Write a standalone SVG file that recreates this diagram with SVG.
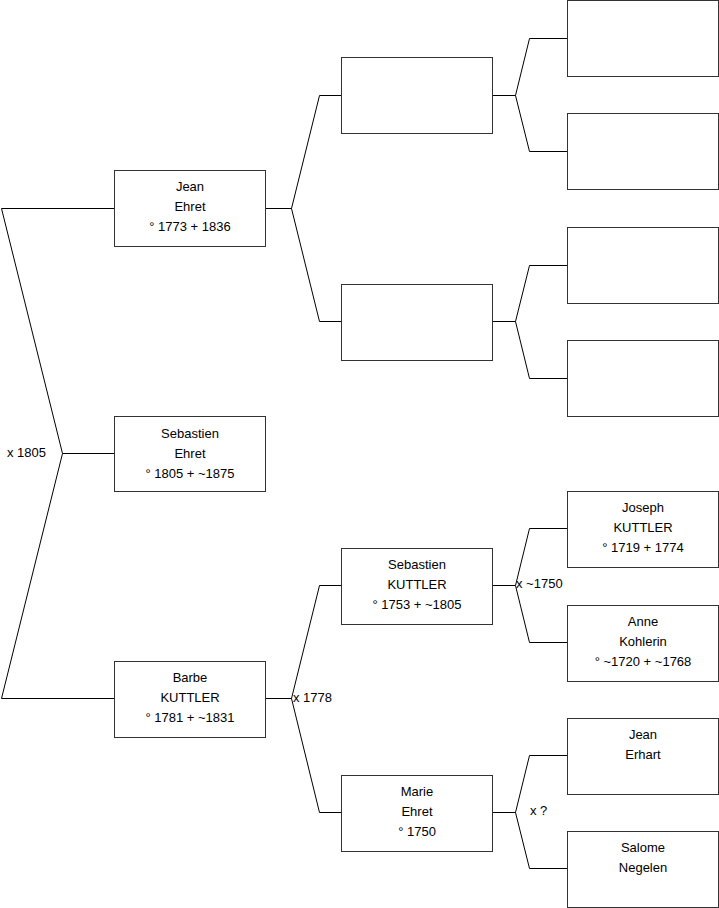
<svg xmlns="http://www.w3.org/2000/svg" width="719" height="908" viewBox="0 0 719 908">
<style>
.b{fill:#fff;stroke:#333;stroke-width:1}
.c{fill:none;stroke:#000;stroke-width:1}
text{font-family:"Liberation Sans",Arial,sans-serif;font-size:13px;fill:#000}
.t{text-anchor:middle}
</style>
<rect width="719" height="908" fill="#fff"/>
<g id="connectors">
<path class="c" d="M114.5,208.5H1.5L62.5,453.5L1.5,698.5H114.5M62.5,453.5H114.5"/>
<path class="c" d="M265.5,208.5H291.5M319.5,95.5L291.5,208.5L319.5,321.5M319.5,95.5H341.5M319.5,321.5H341.5"/>
<path class="c" d="M492.5,95.5H515.5M529.5,38.5L515.5,95.5L529.5,151.5M529.5,38.5H567.5M529.5,151.5H567.5"/>
<path class="c" d="M492.5,321.5H515.5M529.5,265.5L515.5,321.5L529.5,378.5M529.5,265.5H567.5M529.5,378.5H567.5"/>
<path class="c" d="M265.5,698.5H291.5M319.5,585.5L291.5,698.5L319.5,812.5M319.5,585.5H341.5M319.5,812.5H341.5"/>
<path class="c" d="M492.5,585.5H515.5M529.5,528.5L515.5,585.5L529.5,642.5M529.5,528.5H567.5M529.5,642.5H567.5"/>
<path class="c" d="M492.5,812.5H515.5M529.5,755.5L515.5,812.5L529.5,868.5M529.5,755.5H567.5M529.5,868.5H567.5"/>
<text x="7" y="457">x 1805</text>
<text x="293" y="702">x 1778</text>
<text x="516" y="588">x ~1750</text>
<text x="530" y="815">x ?</text>
</g>
<g id="jean"><rect class="b" x="114.5" y="170.5" width="151" height="76"/>
<text class="t" x="190" y="191">Jean</text><text class="t" x="190" y="211">Ehret</text><text class="t" x="190" y="231">° 1773 + 1836</text></g>
<g id="sebastien"><rect class="b" x="114.5" y="416.5" width="151" height="75"/>
<text class="t" x="190" y="438">Sebastien</text><text class="t" x="190" y="458">Ehret</text><text class="t" x="190" y="478">° 1805 + ~1875</text></g>
<g id="barbe"><rect class="b" x="114.5" y="661.5" width="151" height="76"/>
<text class="t" x="190" y="682">Barbe</text><text class="t" x="190" y="702">KUTTLER</text><text class="t" x="190" y="722">° 1781 + ~1831</text></g>
<g id="m1"><rect class="b" x="341.5" y="57.5" width="151" height="76"/></g>
<g id="m2"><rect class="b" x="341.5" y="284.5" width="151" height="76"/></g>
<g id="sebk"><rect class="b" x="341.5" y="548.5" width="151" height="76"/>
<text class="t" x="417" y="569">Sebastien</text><text class="t" x="417" y="589">KUTTLER</text><text class="t" x="417" y="609">° 1753 + ~1805</text></g>
<g id="marie"><rect class="b" x="341.5" y="775.5" width="151" height="76"/>
<text class="t" x="417" y="796">Marie</text><text class="t" x="417" y="816">Ehret</text><text class="t" x="417" y="836">° 1750</text></g>
<g id="r1"><rect class="b" x="567.5" y="0.5" width="151" height="76"/></g>
<g id="r2"><rect class="b" x="567.5" y="113.5" width="151" height="76"/></g>
<g id="r3"><rect class="b" x="567.5" y="227.5" width="151" height="76"/></g>
<g id="r4"><rect class="b" x="567.5" y="340.5" width="151" height="76"/></g>
<g id="joseph"><rect class="b" x="567.5" y="491.5" width="151" height="76"/>
<text class="t" x="643" y="512">Joseph</text><text class="t" x="643" y="532">KUTTLER</text><text class="t" x="643" y="552">° 1719 + 1774</text></g>
<g id="anne"><rect class="b" x="567.5" y="605.5" width="151" height="76"/>
<text class="t" x="643" y="626">Anne</text><text class="t" x="643" y="646">Kohlerin</text><text class="t" x="643" y="666">° ~1720 + ~1768</text></g>
<g id="jeanerhart"><rect class="b" x="567.5" y="718.5" width="151" height="76"/>
<text class="t" x="643" y="739">Jean</text><text class="t" x="643" y="759">Erhart</text></g>
<g id="salome"><rect class="b" x="567.5" y="831.5" width="151" height="76"/>
<text class="t" x="643" y="852">Salome</text><text class="t" x="643" y="872">Negelen</text></g>
</svg>
